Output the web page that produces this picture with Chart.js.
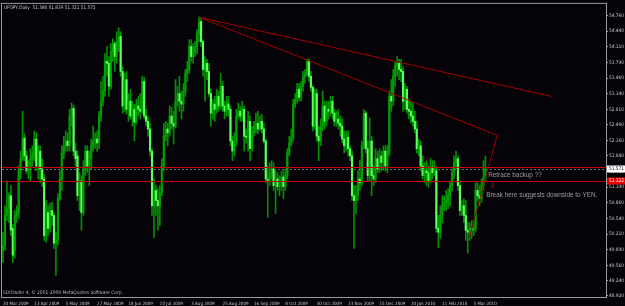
<!DOCTYPE html>
<html>
<head>
<meta charset="utf-8">
<script src="https://cdn.jsdelivr.net/npm/chart.js@4.4.0/dist/chart.umd.min.js"></script>
<style>
  html, body { margin: 0; padding: 0; background: #000; }
  #wrap { width: 625px; height: 306px; position: relative; }
</style>
</head>
<body>
<div id="wrap"><canvas id="priceChart"></canvas></div>
<script>
const symbolTitle = 'UFOPY,Daily  51.380 51.839 51.321 51.571';
const copyright = '5DITrader 4, © 2001-2009 MetaQuotes Software Corp.';

// one label every 16 bars
const dateLabels = ['20 Mar 2009', '13 Apr 2009', '5 May 2009', '27 May 2009', '18 Jun 2009',
  '10 Jul 2009', '3 Aug 2009', '25 Aug 2009', '16 Sep 2009', '8 Oct 2009', '30 Oct 2009',
  '23 Nov 2009', '15 Dec 2009', '20 Jan 2010', '11 Feb 2010', '5 Mar 2010'];
const barsPerLabel = 16;
const slotCount = 308; // bars that fit in the window (chart shift leaves the right side empty)

const yTicks = [54.760, 54.440, 54.110, 53.790, 53.460, 53.140, 52.810, 52.490, 52.160, 51.840,
  51.510, 51.190, 50.860, 50.540, 50.210, 49.890, 49.560, 49.240, 48.920];
const yMin = 48.899;
const yMax = 55.008;

// daily bars [open, high, low, close]
const candles = [
  [49.87,50.25,49.62,49.98],[49.98,50.80,49.87,50.60],[50.60,51.32,50.49,50.74],[50.74,51.07,50.45,51.01],[51.01,51.22,50.18,50.29],
  [50.33,50.41,49.62,49.77],[49.87,50.70,49.71,50.60],[50.60,50.80,50.45,50.66],[50.66,51.63,50.54,51.53],[51.53,51.94,51.36,51.78],
  [51.78,52.77,51.74,52.19],[52.21,52.30,51.74,51.84],[51.84,51.94,51.47,51.53],[51.53,51.74,51.36,51.61],[51.61,51.99,51.32,51.78],
  [51.78,52.05,51.63,51.84],[51.84,52.36,51.74,52.19],[52.19,52.32,51.53,51.63],[51.63,52.05,51.36,51.90],[51.94,52.05,51.28,51.57],
  [51.57,51.78,51.20,51.36],[51.36,51.45,50.08,50.18],[50.16,50.91,50.04,50.70],[50.66,50.80,50.18,50.33],[50.33,50.85,50.25,50.70],
  [50.70,50.87,50.39,50.60],[50.60,50.66,49.91,50.02],[50.02,50.25,49.35,50.08],[50.08,51.05,49.98,50.95],[50.95,51.53,50.91,51.36],
  [51.36,52.05,51.12,51.90],[51.90,52.25,51.78,52.05],[52.05,52.36,51.94,52.15],[52.15,52.32,51.94,52.05],[52.05,52.81,51.94,52.67],
  [52.67,52.94,52.46,52.83],[52.83,52.90,51.84,51.94],[51.94,52.11,51.63,51.78],[51.84,51.94,50.91,51.01],[51.01,51.49,50.70,51.32],
  [51.32,51.43,50.29,50.66],[50.66,51.74,50.60,51.57],[51.57,52.05,51.43,51.94],[51.94,52.05,51.49,51.63],[51.63,51.94,51.22,51.78],
  [51.78,52.19,51.57,52.05],[52.05,52.46,51.94,52.15],[52.15,52.32,51.99,52.19],[52.19,52.36,51.94,52.11],[52.11,52.77,51.99,52.67],
  [52.67,53.39,52.56,52.98],[52.98,53.50,52.88,53.19],[53.19,53.97,53.08,53.81],[53.81,54.12,53.50,53.77],[53.77,53.91,53.08,53.29],
  [53.29,54.18,53.23,54.01],[54.01,54.28,53.81,54.18],[54.18,54.22,53.60,53.91],[53.91,54.43,53.77,54.22],[54.22,54.51,54.01,54.33],
  [54.33,54.43,53.50,53.60],[53.60,53.70,52.73,52.88],[52.88,53.56,52.77,53.39],[53.43,53.60,52.71,52.81],[52.81,53.14,52.56,52.98],
  [52.98,53.23,52.61,52.67],[52.67,52.98,52.46,52.81],[52.81,52.92,52.15,52.54],[52.56,53.02,52.50,52.88],[52.88,53.08,52.67,52.81],
  [52.81,53.14,52.61,52.77],[52.77,53.50,52.73,53.39],[53.39,53.48,52.61,52.67],[52.67,52.81,52.46,52.56],[52.56,52.65,52.25,52.40],
  [52.40,52.52,51.84,51.94],[51.94,51.99,50.60,50.80],[50.80,51.36,50.14,51.12],[51.12,51.22,50.60,50.91],[50.91,51.16,50.29,50.80],
  [50.80,51.22,50.39,51.07],[51.07,51.78,51.01,51.63],[51.63,52.52,51.53,52.25],[52.25,52.56,52.15,52.40],[52.40,52.52,52.05,52.32],
  [52.32,52.88,52.25,52.67],[52.67,52.85,52.40,52.52],[52.52,52.77,52.09,52.46],[52.46,53.43,52.42,52.98],[52.98,53.29,52.88,53.14],
  [53.14,53.50,52.77,52.98],[52.98,53.19,52.61,52.92],[52.92,53.35,52.77,53.19],[53.19,53.64,53.08,53.56],[53.56,53.81,53.39,53.64],
  [53.64,54.26,53.56,54.12],[54.12,54.26,53.81,53.91],[53.91,54.18,53.77,54.01],[54.01,54.22,53.91,54.12],[54.12,54.47,53.97,54.39],
  [54.39,54.74,54.22,54.64],[54.64,54.72,54.12,54.22],[54.22,54.26,53.50,53.64],[53.64,53.91,52.98,53.77],[53.77,53.85,53.43,53.60],
  [53.60,53.77,53.08,53.14],[53.14,53.23,52.46,52.73],[52.73,53.02,52.61,52.92],[52.92,53.08,52.56,52.81],[52.81,53.23,52.73,53.08],
  [53.08,53.19,52.77,52.88],[52.88,53.56,52.81,53.29],[53.29,53.39,52.77,52.88],[52.88,52.98,52.61,52.77],[52.77,53.08,52.67,52.92],
  [52.92,53.08,52.67,52.81],[52.81,52.88,52.05,52.15],[52.15,52.25,51.74,51.94],[51.94,52.32,51.84,52.15],[52.15,52.81,52.05,52.67],
  [52.67,52.94,52.61,52.77],[52.77,52.88,52.56,52.67],[52.67,52.98,52.56,52.81],[52.81,52.88,51.94,52.25],[52.25,52.40,52.11,52.23],
  [52.23,52.77,51.94,52.56],[52.56,52.67,51.74,51.99],[51.99,52.46,51.94,52.32],[52.32,52.56,52.25,52.46],[52.46,52.73,52.32,52.52],
  [52.52,52.77,52.30,52.40],[52.40,52.67,52.36,52.56],[52.56,52.71,52.32,52.40],[52.40,52.52,52.11,52.15],[52.15,52.19,51.28,51.36],
  [51.36,51.63,50.56,51.32],[51.32,51.70,51.22,51.49],[51.49,51.74,51.36,51.57],[51.57,51.70,51.12,51.22],[51.22,51.53,50.64,51.36],
  [51.36,51.49,51.12,51.20],[51.20,51.43,51.01,51.32],[51.32,51.53,51.12,51.40],[51.40,51.53,50.95,51.20],[51.20,51.57,51.12,51.43],
  [51.43,51.99,51.36,51.90],[51.90,52.25,51.84,52.11],[52.11,52.40,52.05,52.23],[52.23,53.02,52.15,52.92],[52.92,53.14,52.85,53.02],
  [53.02,53.35,52.94,53.23],[53.23,53.35,52.98,53.06],[53.06,53.39,52.98,53.29],[53.29,53.60,53.19,53.48],[53.48,53.64,53.35,53.54],
  [53.54,53.85,53.50,53.81],[53.81,53.87,53.39,53.50],[53.50,53.60,53.19,53.27],[53.27,53.31,52.36,52.46],[52.46,53.23,52.40,53.14],
  [53.14,53.23,52.15,52.25],[52.25,52.46,51.74,52.15],[52.15,52.61,52.05,52.46],[52.46,53.19,52.36,52.88],[52.88,52.98,52.40,52.56],
  [52.56,52.98,52.46,52.81],[52.81,52.98,52.61,52.77],[52.77,53.08,52.67,52.98],[52.98,53.08,52.61,52.73],[52.73,52.81,52.46,52.56],
  [52.56,52.77,52.46,52.61],[52.61,52.81,52.40,52.52],[52.52,52.67,52.25,52.46],[52.46,52.61,52.11,52.19],[52.19,52.36,51.90,52.05],
  [52.05,52.36,51.94,52.23],[52.23,52.36,51.84,51.99],[51.99,52.05,51.74,51.84],[51.84,51.94,50.91,51.01],[51.01,51.22,49.91,50.91],
  [50.91,51.22,50.64,51.01],[51.01,51.53,50.91,51.36],[51.36,51.74,51.12,51.28],[51.28,52.15,51.22,52.05],[52.05,52.81,51.99,52.73],
  [52.73,52.77,51.90,51.99],[51.99,52.15,51.32,51.43],[51.43,52.63,51.32,52.15],[52.15,52.25,51.01,51.43],[51.43,51.63,51.22,51.36],
  [51.36,51.99,51.28,51.78],[51.78,51.94,51.49,51.57],[51.57,51.99,51.49,51.84],[51.84,51.94,51.53,51.70],[51.70,52.05,51.57,51.94],
  [51.94,52.05,51.53,51.63],[51.63,52.05,51.49,51.90],[51.90,53.19,51.84,53.08],[53.08,53.43,52.77,52.98],[52.98,53.64,52.88,53.50],
  [53.50,53.81,53.29,53.70],[53.70,53.91,53.50,53.77],[53.77,53.85,53.43,53.64],[53.64,53.85,53.39,53.60],[53.60,53.70,52.77,52.98],
  [52.98,53.35,52.81,53.23],[53.23,53.29,52.73,52.81],[52.81,53.02,52.61,52.77],[52.77,52.98,52.52,52.67],[52.67,52.94,52.46,52.56],
  [52.56,52.77,52.32,52.40],[52.40,52.56,51.90,51.99],[51.99,52.19,51.84,52.05],[52.05,52.15,51.53,51.63],[51.63,51.84,51.36,51.43],
  [51.43,51.70,51.28,51.53],[51.53,51.74,51.22,51.49],[51.49,51.63,51.18,51.32],[51.32,51.78,51.28,51.61],[51.61,51.74,51.36,51.49],
  [51.49,51.74,51.43,51.53],[51.53,51.63,50.25,50.33],[50.33,50.60,49.93,50.25],[50.25,50.80,50.12,50.60],[50.60,51.01,50.45,50.80],
  [50.80,51.01,50.70,50.87],[50.87,51.12,50.70,50.91],[50.91,51.16,50.74,51.01],[51.01,51.32,50.80,51.22],[51.22,51.57,51.12,51.49],
  [51.49,51.84,51.36,51.70],[51.70,51.94,51.57,51.78],[51.78,51.84,51.12,51.22],[51.22,51.32,50.60,50.70],[50.70,50.91,50.60,50.80],
  [50.80,50.95,50.45,50.60],[50.60,50.91,50.08,50.29],[50.29,50.45,49.81,50.25],[50.25,50.45,50.08,50.33],[50.33,50.49,50.12,50.29],
  [50.29,50.49,50.18,50.33],[50.33,51.28,50.25,51.12],[51.12,51.28,50.91,51.01],[51.01,51.22,50.80,50.95],[50.95,51.36,50.87,51.22],
  [51.22,51.74,51.12,51.38],[51.380,51.839,51.321,51.571]
];

// objects drawn on the chart: [bar, price] pairs
const bidPrice = 51.571;
const redLevels = [51.61, 51.322];
const trendLines = [
  [100, 54.73, 279.6, 53.08],
  [100, 54.73, 252.0, 52.27],
  [237.8, 50.14, 252.0, 52.27]
];
const notes = [
  ['Retrace backup ??', 247.4, 51.44, '#9c9c9c'],
  ['\u21E9', 248.0, 51.21, '#e00000'],
  ['Break here suggests downside to YEN.', 246.4, 51.02, '#9c9c9c']
];

const axisColor = '#9a9a9a';
const textColor = '#c8c8c8';
const smallFont = '"Liberation Sans Narrow", "DejaVu Sans Condensed", "Liberation Sans", sans-serif';
const noteFont = '"Liberation Sans", Arial, sans-serif';

const slots = [];
for (let i = 0; i < slotCount; i++) slots.push(String(i));

const bodyColors = candles.map(c => c[3] < c[0] ? '#5cff5c' : '#00a000');

const mt4Overlay = {
  id: 'mt4Overlay',
  beforeDraw(chart) {
    const ctx = chart.ctx;
    ctx.save();
    ctx.fillStyle = '#050308';
    ctx.fillRect(0, 0, chart.width, chart.height);
    ctx.restore();
  },
  afterDatasetsDraw(chart) {
    const ctx = chart.ctx;
    const area = chart.chartArea;
    const xs = chart.scales.x;
    const ys = chart.scales.y;
    ctx.save();
    ctx.beginPath();
    ctx.rect(area.left, area.top, area.right - area.left, area.bottom - area.top);
    ctx.clip();

    // bid line
    let py = Math.round(ys.getPixelForValue(bidPrice)) + 0.5;
    ctx.strokeStyle = '#6e6e78';
    ctx.lineWidth = 1;
    ctx.setLineDash([2, 2]);
    ctx.beginPath();
    ctx.moveTo(area.left, py);
    ctx.lineTo(area.right, py);
    ctx.stroke();
    ctx.setLineDash([]);

    // horizontal levels
    ctx.strokeStyle = '#c80000';
    redLevels.forEach(v => {
      const y = Math.round(ys.getPixelForValue(v)) + 0.5;
      ctx.beginPath();
      ctx.moveTo(area.left, y);
      ctx.lineTo(area.right, y);
      ctx.stroke();
    });

    // trend lines
    ctx.strokeStyle = '#a00000';
    trendLines.forEach(t => {
      ctx.beginPath();
      ctx.moveTo(xs.getPixelForValue(t[0]), ys.getPixelForValue(t[1]));
      ctx.lineTo(xs.getPixelForValue(t[2]), ys.getPixelForValue(t[3]));
      ctx.stroke();
    });

    // text notes
    ctx.textAlign = 'left';
    ctx.textBaseline = 'middle';
    notes.forEach(n => {
      ctx.fillStyle = n[3];
      ctx.font = n[0].length < 3 ? '8px "DejaVu Sans"' : '6.4px ' + noteFont;
      ctx.fillText(n[0], xs.getPixelForValue(n[1]), ys.getPixelForValue(n[2]));
    });

    // header and copyright
    ctx.font = '4.7px ' + smallFont;
    ctx.fillStyle = textColor;
    ctx.fillText(symbolTitle, area.left + 2, area.top + 4);
    ctx.font = '4.9px ' + smallFont;
    ctx.fillStyle = '#b4b4b4';
    ctx.fillText(copyright, area.left + 1, area.bottom - 4);
    ctx.restore();

    // frame
    ctx.save();
    ctx.strokeStyle = axisColor;
    ctx.lineWidth = 1;
    ctx.strokeRect(area.left - 0.5, area.top - 0.5, area.right - area.left + 1, area.bottom - area.top + 1);
    ctx.restore();
  },
  afterDraw(chart) {
    const ctx = chart.ctx;
    const ys = chart.scales.y;
    const left = chart.chartArea.right + 1;
    const boxes = [[redLevels[1], '#e00000', '#ffffff'], [bidPrice, '#ffffff', '#000000']];
    ctx.save();
    ctx.font = '4.8px ' + smallFont;
    ctx.textBaseline = 'middle';
    ctx.textAlign = 'left';
    boxes.forEach(b => {
      const y = Math.round(ys.getPixelForValue(b[0]));
      ctx.fillStyle = b[1];
      ctx.fillRect(left, y - 3.5, chart.width - left, 7);
      ctx.fillStyle = b[2];
      ctx.fillText(b[0].toFixed(3), left + 2, y);
    });
    ctx.restore();
  }
};

new Chart(document.getElementById('priceChart'), {
  type: 'bar',
  data: {
    labels: slots,
    datasets: [
      {
        label: 'body',
        data: candles.map(c => [c[0], c[3]]),
        backgroundColor: bodyColors,
        barThickness: 1.5,
        minBarLength: 1,
        grouped: false
      },
      {
        label: 'wick',
        data: candles.map(c => [c[2], c[1]]),
        backgroundColor: '#009000',
        barThickness: 1,
        grouped: false
      }
    ]
  },
  options: {
    responsive: true,
    maintainAspectRatio: false,
    animation: false,
    devicePixelRatio: 1,
    layout: { padding: { left: 2, top: 2, right: 0, bottom: 0 } },
    plugins: {
      legend: { display: false },
      tooltip: { enabled: false }
    },
    scales: {
      x: {
        type: 'category',
        offset: true,
        grid: {
          display: true,
          offset: true,
          drawOnChartArea: false,
          drawTicks: true,
          tickLength: 4,
          color: ctx => (ctx.index % barsPerLabel === 0 && ctx.index / barsPerLabel < dateLabels.length) ? axisColor : 'rgba(0,0,0,0)'
        },
        border: { display: true, color: axisColor },
        ticks: {
          autoSkip: false,
          maxRotation: 0,
          minRotation: 0,
          align: 'start',
          padding: 0,
          color: textColor,
          font: { size: 4.5, family: smallFont },
          callback: (val, idx) => (idx % barsPerLabel === 0 && dateLabels[idx / barsPerLabel]) ? dateLabels[idx / barsPerLabel] : null
        },
        afterFit: s => { s.height = 9; }
      },
      y: {
        type: 'linear',
        position: 'right',
        min: yMin,
        max: yMax,
        afterBuildTicks: s => { s.ticks = yTicks.map(v => ({ value: v })); },
        grid: { drawOnChartArea: false, drawTicks: true, tickLength: 2, color: axisColor },
        border: { display: true, color: axisColor },
        ticks: {
          autoSkip: false,
          padding: 1,
          color: textColor,
          font: { size: 4.8, family: smallFont },
          callback: v => Number(v).toFixed(3)
        },
        afterFit: s => { s.width = 19; }
      }
    }
  },
  plugins: [mt4Overlay]
});
</script>
</body>
</html>
